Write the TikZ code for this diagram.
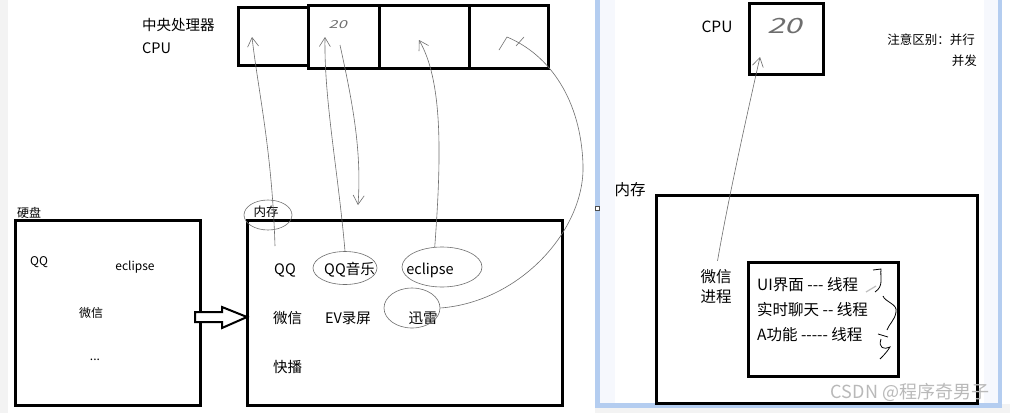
\documentclass[tikz,border=0pt]{standalone}
\usepackage{fontspec}
\setmainfont{Noto Sans CJK SC}
\usepackage{xcolor}
\usetikzlibrary{shapes.geometric, positioning, arrows.meta, calc}

\definecolor{stripgray}{HTML}{F3F3F3}
\definecolor{panelblue}{HTML}{B4CDF0}
\definecolor{panelbg}{HTML}{F6F8FD}
\definecolor{inkgray}{HTML}{6E6E6E}

\begin{document}
\begin{tikzpicture}[
    x=1pt,y=-1pt,
    box/.style={draw, line width=3pt, inner sep=0pt, outer sep=0pt},
    lbl/.style={font=\fontsize{14.5}{20}\selectfont, inner sep=0pt},
    big/.style={font=\fontsize{15.5}{20}\selectfont, inner sep=0pt},
    small/.style={font=\fontsize{12}{14}\selectfont, inner sep=0pt},
    note/.style={font=\fontsize{12.5}{14}\selectfont, inner sep=0pt},
    hand/.style={text=inkgray, inner sep=0pt, xslant=0.3, xscale=1.5},
    loop/.style={draw=inkgray, line width=0.6pt, ellipse, inner sep=0pt},
    pen/.style={draw=inkgray, line width=0.6pt},
    flow/.style={pen, -{Straight Barb[length=9pt,width=11pt]}}
]
    \useasboundingbox (0,0) rectangle (1010,413);

    % ================= BACKGROUND =================
    \fill[white] (0,0) rectangle (1010,413);
    \fill[stripgray] (0,0) rectangle (8,413);
    \fill[stripgray] (595,404) rectangle (1010,413);
    \fill[panelblue] (595,0) rectangle (1002,408);
    \fill[panelbg] (600,0) rectangle (998,403);
    \fill[white] (615,0) rectangle (984,403);
    \draw[line width=0.8pt, draw=black!70, fill=white] (595.5,206) rectangle (599.5,210);

    % ================= LEFT: CPU =================
    \node[lbl, anchor=west] (cpuzh) at (142,25) {中央处理器};
    \node[lbl, anchor=west] (cpuen) at (142,48) {CPU};

    \node[box, minimum width=70pt, minimum height=58pt] (core1) at (273,36) {};
    \node[box, minimum width=71pt, minimum height=63pt] (core2) at (343.5,36.5) {};
    \node[box, minimum width=90pt, minimum height=63pt] (core3) at (424,36.5) {};
    \node[box, minimum width=79pt, minimum height=63pt] (core4) at (508.5,36.5) {};
    \node[hand, font=\fontsize{11}{11}\selectfont] (tick20) at (339,25) {20};

    % ================= LEFT: DISK =================
    \node[small, anchor=west] (disklbl) at (17,213) {硬盘};
    \node[box, minimum width=185pt, minimum height=185pt] (disk) at (107.5,312.5) {};

    \node[small] (dqq) at (39,262) {QQ};
    \node[small] (decl) at (135,267) {eclipse};
    \node[small] (dwx) at (91,313) {微信};
    \node[small] (dmore) at (95,360) {...};

    % ================= LEFT: MEMORY =================
    \node[note] (memlbl) at (266,212) {内存};
    \node[box, minimum width=315pt, minimum height=185pt] (mem) at (404.5,312.5) {};

    \node[lbl] (mqq) at (285,270) {QQ};
    \node[lbl] (mqqm) at (349.5,270) {QQ音乐};
    \node[lbl] (mecl) at (430,270) {eclipse};
    \node[lbl] (mwx) at (287.5,318) {微信};
    \node[lbl] (mev) at (348,318) {EV录屏};
    \node[lbl] (mxl) at (423,318) {迅雷};
    \node[lbl] (mkb) at (287.5,367) {快播};

    % scribbled rings
    \node[loop, minimum width=48pt, minimum height=30pt] (memring) at (268,215) {};
    \node[loop, minimum width=64pt, minimum height=33pt] (qqmring) at (345,268) {};
    \node[loop, minimum width=80pt, minimum height=40pt] (eclring) at (442,267) {};
    \node[loop, minimum width=56pt, minimum height=40pt] (xlring) at (412,308) {};

    % ================= LEFT: LOADING =================
    \coordinate (load) at (195,317);
    \draw[line width=2pt, fill=white] (load) ++(0,-5) -- ++(27,0) -- ++(0,-5)
        -- (mem.west |- load) -- ($(load)+(27,11)$) -- ++(0,-6) -- ($(load)+(0,5)$) -- cycle;

    % ================= LEFT: SCHEDULING =================
    \coordinate (qqfoot) at (275,246);
    \coordinate (qqtip) at (252,37);
    \draw[flow] (qqfoot) .. controls (272,150) and (258,90) .. (qqtip);

    \coordinate (qqmtip) at (325,37);
    \draw[flow] (qqmring.north) .. controls (338,170) and (324,100) .. (qqmtip);

    \coordinate (backtop) at (340,45);
    \coordinate (backfoot) at (358,205);
    \draw[flow] (backtop) .. controls (352,100) and (362,150) .. (backfoot);

    \coordinate (ecltip) at (419,40);
    \draw[flow] (eclring.110) .. controls (442,150) and (442,80) .. (ecltip);

    \coordinate (xltip) at (507,37);
    \draw[pen] (xlring.east) .. controls (520,302) and (585,230) .. (583,165)
        .. controls (581,100) and (550,55) .. (xltip) -- (499,50);
    \draw[pen] (516,46) -- (524,37);

    % ================= RIGHT: CPU =================
    \node[big] (rcpulbl) at (717,27) {CPU};
    \node[box, minimum width=74pt, minimum height=71pt] (rcpu) at (786,38.5) {};
    \node[hand, font=\fontsize{21}{21}\selectfont] (rtick20) at (787,26) {20};

    \node[note, anchor=east] (diffa) at (975,40) {注意区别：并行};
    \node[note, anchor=east] (diffb) at (977,61) {并发};

    % ================= RIGHT: MEMORY =================
    \node[big] (rmemlbl) at (630,190) {内存};
    \node[box, minimum width=321pt, minimum height=208pt] (rmem) at (816.5,299) {};
    \node[big, align=center] (wxproc) at (716,287) {微信\\进程};
    \node[box, minimum width=150pt, minimum height=114pt] (proc) at (823,319) {};

    \node[big, anchor=west] (thui) at (757,285) {UI界面 -{}-{}- 线程};
    \node[big, anchor=west] (thchat) at (757,310) {实时聊天 -{}- 线程};
    \node[big, anchor=west] (tha) at (757,335) {A功能 -{}-{}-{}-{}- 线程};

    \coordinate (rcputip) at (760,57);
    \draw[flow, shorten <=9pt] (wxproc.north) .. controls (728,200) and (748,110) .. (rcputip);

    % thread brackets
    \draw[line width=0.8pt] (873,270) -- (881,269) .. controls (880,278) and (884,286) .. (875,292);
    \draw[line width=0.8pt] (883,296) .. controls (885,302) and (898,304) .. (896,312)
        .. controls (895,320) and (889,324) .. (887,330);
    \draw[line width=0.8pt] (878,334) -- (888,337);
    \draw[line width=0.8pt] (881,339) .. controls (878,348) and (884,350) .. (890,347)
        .. controls (887,352) and (883,356) .. (880,359);
    \draw[draw=gray!50, line width=1.2pt] (866,292) -- (876,286);

    % ================= WATERMARK =================
    \node[font=\fontsize{18}{18}\selectfont, text=gray!55, inner sep=0pt] (mark) at (910,392) {CSDN @程序奇男子};

\end{tikzpicture}
\end{document}
